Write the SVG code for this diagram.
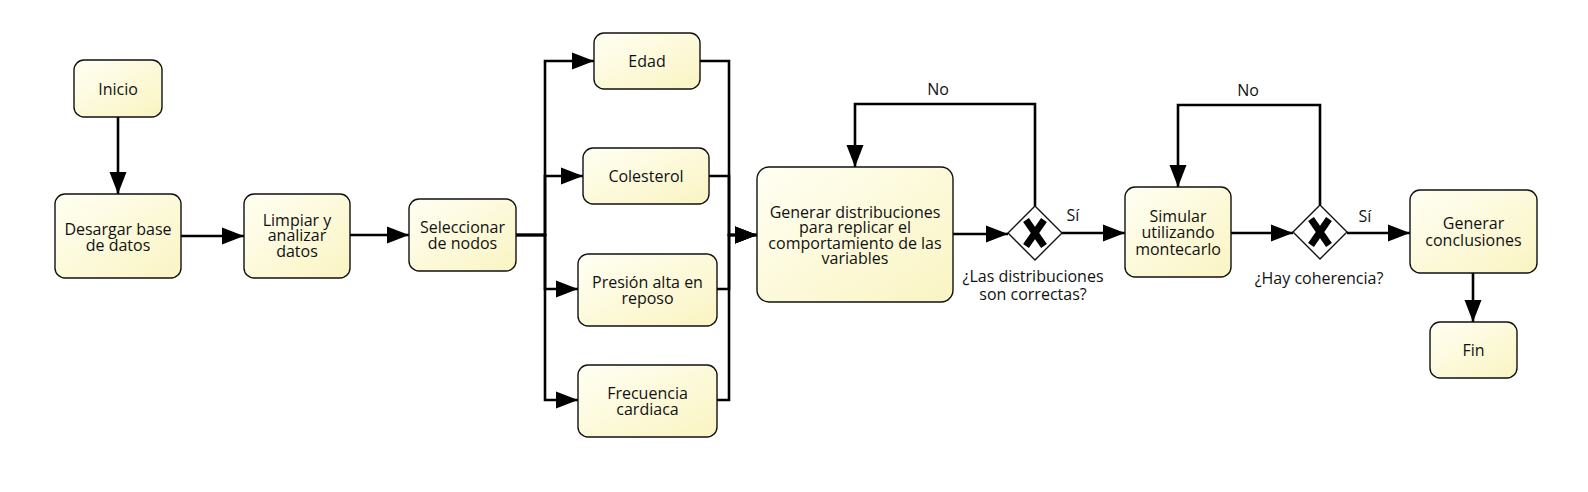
<svg xmlns="http://www.w3.org/2000/svg" width="1588" height="492" viewBox="0 0 1588 492">
<defs>
<linearGradient id="fillg" x1="0" y1="0" x2="1" y2="1">
<stop offset="0" stop-color="#fffff3"/>
<stop offset="1" stop-color="#faf4c2"/>
</linearGradient>
<marker id="arr" markerUnits="userSpaceOnUse" markerWidth="22" markerHeight="17" refX="22" refY="8.5" orient="auto" overflow="visible">
<path d="M0,0 L22,8.5 L0,17 Z" fill="#000"/>
</marker>
</defs>
<style>
.box{fill:url(#fillg);stroke:#111;stroke-width:1.4}
.gw{fill:#fff;stroke:#111;stroke-width:1.4}
.xm{stroke:#000;stroke-width:7;stroke-linecap:butt}
.c{fill:none;stroke:#000;stroke-width:2.6;marker-end:url(#arr)}
text{font-family:"Open Sans","Noto Sans",sans-serif;font-size:16px;fill:#111;text-anchor:middle;dominant-baseline:central}
</style>
<rect width="1588" height="492" fill="#fff"/>
<g id="connectors">
<path class="c" d="M118,117 V194"/>
<path class="c" d="M181,236 H244"/>
<path class="c" d="M350,235 H409"/>
<path class="c" d="M516,235 H545 V61 H594"/>
<path class="c" d="M516,235 H545 V176 H583"/>
<path class="c" d="M516,235 H545 V289 H578"/>
<path class="c" d="M516,235 H545 V400 H578"/>
<path class="c" d="M700,61 H729 V235 H757"/>
<path class="c" d="M709,176 H729 V235 H757"/>
<path class="c" d="M717,289 H729 V235 H757"/>
<path class="c" d="M717,400 H729 V235 H757"/>
<path class="c" d="M953,234 H1008"/>
<path class="c" d="M1035,206 V104 H855 V167"/>
<path class="c" d="M1062,233 H1125"/>
<path class="c" d="M1231,233 H1293"/>
<path class="c" d="M1320,205 V105 H1178 V187"/>
<path class="c" d="M1347,233 H1410"/>
<path class="c" d="M1473,273 V322"/>
<text x="938" y="89">No</text>
<text x="1073" y="215">Sí</text>
<text x="1248" y="90">No</text>
<text x="1365" y="216">Sí</text>
</g>
<g id="inicio"><rect class="box" x="74" y="60" width="88" height="57" rx="10"/><text x="118" y="88.5">Inicio</text></g>
<g id="desargar"><rect class="box" x="55" y="194" width="126" height="84" rx="10"/><text x="118" y="229">Desargar base</text><text x="118" y="244.5">de datos</text></g>
<g id="limpiar"><rect class="box" x="244" y="194" width="106" height="84" rx="10"/><text x="297" y="219.5">Limpiar y</text><text x="297" y="235">analizar</text><text x="297" y="250.5">datos</text></g>
<g id="seleccionar"><rect class="box" x="409" y="199" width="107" height="72" rx="10"/><text x="462.5" y="227">Seleccionar</text><text x="462.5" y="242.5">de nodos</text></g>
<g id="edad"><rect class="box" x="594" y="33" width="106" height="56" rx="10"/><text x="647" y="61">Edad</text></g>
<g id="colesterol"><rect class="box" x="583" y="148" width="126" height="56" rx="10"/><text x="646" y="176">Colesterol</text></g>
<g id="presion"><rect class="box" x="578" y="254" width="139" height="72" rx="10"/><text x="647.5" y="282">Presión alta en</text><text x="647.5" y="297.5">reposo</text></g>
<g id="frecuencia"><rect class="box" x="578" y="365" width="139" height="72" rx="10"/><text x="647.5" y="393">Frecuencia</text><text x="647.5" y="408.5">cardiaca</text></g>
<g id="generar_dist"><rect class="box" x="757" y="167" width="196" height="135" rx="12"/><text x="855" y="211.5">Generar distribuciones</text><text x="855" y="227">para replicar el</text><text x="855" y="242.5">comportamiento de las</text><text x="855" y="258">variables</text></g>
<g id="gw1"><polygon class="gw" points="1035,206 1062,233 1035,260 1008,233"/><path class="xm" d="M1026,220 L1044,246 M1044,220 L1026,246"/><text x="1033" y="276">¿Las distribuciones</text><text x="1033" y="294">son correctas?</text></g>
<g id="simular"><rect class="box" x="1125" y="187" width="106" height="90" rx="10"/><text x="1178" y="216">Simular</text><text x="1178" y="232">utilizando</text><text x="1178" y="248.5">montecarlo</text></g>
<g id="gw2"><polygon class="gw" points="1320,205 1347,232 1320,259 1293,232"/><path class="xm" d="M1311,219 L1329,245 M1329,219 L1311,245"/><text x="1319" y="278">¿Hay coherencia?</text></g>
<g id="conclusiones"><rect class="box" x="1410" y="190" width="127" height="83" rx="10"/><text x="1473.5" y="223">Generar</text><text x="1473.5" y="239.5">conclusiones</text></g>
<g id="fin"><rect class="box" x="1430" y="322" width="87" height="56" rx="10"/><text x="1473.5" y="350">Fin</text></g>
</svg>
